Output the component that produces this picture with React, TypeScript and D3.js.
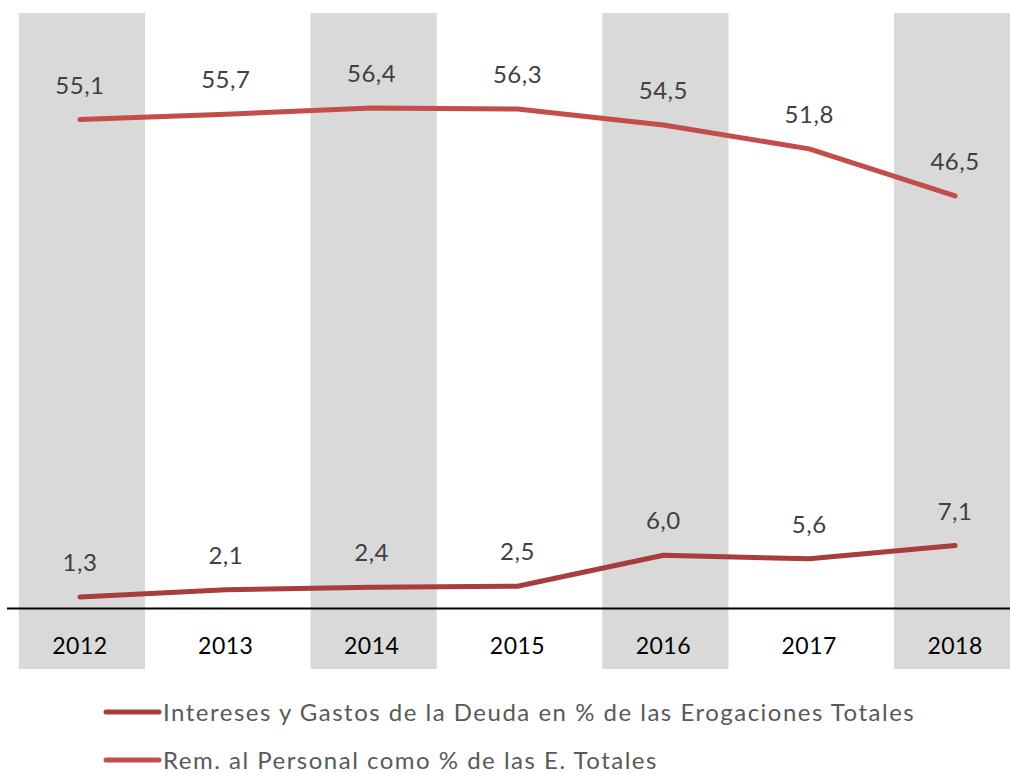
import React, { useEffect, useRef } from 'react';
import * as d3 from 'd3';

const years = ['2012', '2013', '2014', '2015', '2016', '2017', '2018'];
const intereses = [1.3, 2.1, 2.4, 2.5, 6.0, 5.6, 7.1];
const remuneraciones = [55.1, 55.7, 56.4, 56.3, 54.5, 51.8, 46.5];
const shadedYears = ['2012', '2014', '2016', '2018'];
const seriesNames = [
  'Intereses y Gastos de la Deuda en % de las Erogaciones Totales',
  'Rem. al Personal como % de las E. Totales',
];
const seriesColors = ['#a83d3d', '#c24d4b'];

const fmt = (v: number) => v.toFixed(1).replace('.', ',');

export default function App() {
  const svgRef = useRef<SVGSVGElement>(null);

  useEffect(() => {
    const width = 1010;
    const height = 774;
    const font = 'Lato, "Open Sans", sans-serif';

    d3.select(svgRef.current).selectAll('*').remove();
    const svg = d3.select(svgRef.current)
      .attr('width', width)
      .attr('height', height);

    const x = d3.scaleBand<string>()
      .domain(years)
      .range([7, 1028])
      .paddingInner(0.135)
      .paddingOuter(0.0675);
    const cx = (d: string) => (x(d) as number) + x.bandwidth() / 2;

    const y = d3.scaleLinear().domain([0, 67]).range([608.5, 14]);

    // shaded columns behind every other year
    svg.selectAll('rect.band')
      .data(shadedYears)
      .enter()
      .append('rect')
      .attr('class', 'band')
      .attr('x', d => (x(d) as number) + 2)
      .attr('y', 13)
      .attr('width', x.bandwidth())
      .attr('height', 656)
      .attr('fill', '#d9d9d9');

    // category axis
    svg.append('line')
      .attr('x1', 7)
      .attr('x2', width)
      .attr('y1', y(0))
      .attr('y2', y(0))
      .attr('stroke', '#000')
      .attr('stroke-width', 2);

    svg.selectAll('text.year')
      .data(years)
      .enter()
      .append('text')
      .attr('class', 'year')
      .attr('x', cx)
      .attr('y', 654)
      .attr('text-anchor', 'middle')
      .attr('font-family', font)
      .attr('font-size', '23px')
      .attr('letter-spacing', '0.5px')
      .attr('fill', '#000')
      .text(d => d);

    const series = [intereses, remuneraciones];
    const line = d3.line<number>()
      .x((_, i) => cx(years[i]))
      .y(d => y(d));

    series.forEach((values, si) => {
      svg.append('path')
        .datum(values)
        .attr('d', line)
        .attr('fill', 'none')
        .attr('stroke', seriesColors[si])
        .attr('stroke-width', 5)
        .attr('stroke-linecap', 'round')
        .attr('stroke-linejoin', 'round');

      svg.selectAll(`text.lbl${si}`)
        .data(values)
        .enter()
        .append('text')
        .attr('class', `lbl${si}`)
        .attr('x', (_, i) => cx(years[i]))
        .attr('y', d => y(d) - 26)
        .attr('text-anchor', 'middle')
        .attr('font-family', font)
        .attr('font-size', '24px')
        .attr('letter-spacing', '0.5px')
        .attr('fill', '#404040')
        .text(d => fmt(d));
    });

    // legend
    const legend = svg.append('g');
    seriesNames.forEach((name, i) => {
      const ly = 712 + i * 48;
      legend.append('line')
        .attr('x1', 106)
        .attr('x2', 159)
        .attr('y1', ly)
        .attr('y2', ly)
        .attr('stroke', seriesColors[i])
        .attr('stroke-width', 5)
        .attr('stroke-linecap', 'round');
      legend.append('text')
        .attr('x', 163)
        .attr('y', ly + 9)
        .attr('font-family', font)
        .attr('font-size', '24px')
        .attr('letter-spacing', '1.5px')
        .attr('fill', '#595959')
        .text(name);
    });
  }, []);

  return (
    <svg
      ref={svgRef}
      style={{ position: 'absolute', left: 0, top: 0, display: 'block' }}
    ></svg>
  );
}
